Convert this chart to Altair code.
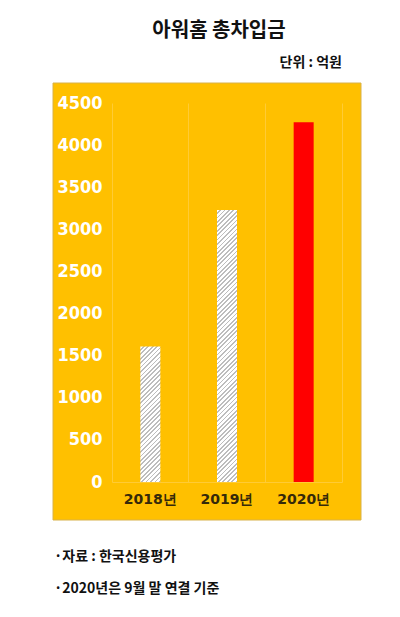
import altair as alt
import pandas as pd

years = ["2018년", "2019년", "2020년"]
values = [1610, 3230, 4270]
y_ticks = [0, 500, 1000, 1500, 2000, 2500, 3000, 3500, 4000, 4500]
title_text = ["아워홈 총차입금"]
unit_text = ["단위 : 억원"]
note1 = ["·자료 : 한국신용평가"]
note2 = ["·2020년은 9월 말 연결 기준"]

W, H = 230, 379
YMAX = 4500
BAR_W = 20
ORANGE = "#FFC000"
GRID = "#FFCB35"
KFONT = "Noto Sans CJK KR"
NUMFONT = "DejaVu Sans Condensed"

df = pd.DataFrame({"year": years, "value": values})


def hatch(v, w=BAR_W, period=4.4, frac=0.4, gray="#bdbdbd"):
    h = v / YMAX * H
    L = w + h
    n = max(1, round(L / period))
    s = w * (w + h) / (w * w + h * h)
    stops = []
    for i in range(n):
        a, b, c = i / n, (i + 1 - frac) / n, (i + 1) / n
        stops += [
            {"offset": a, "color": "#ffffff"},
            {"offset": b, "color": "#ffffff"},
            {"offset": b, "color": gray},
            {"offset": c, "color": gray},
        ]
    return {"gradient": "linear", "x1": 0, "y1": 0, "x2": s, "y2": s * h / w, "stops": stops}


x_axis = alt.Axis(
    title=None, labelAngle=0, ticks=False, grid=True, bandPosition=0,
    gridColor=GRID, gridWidth=1, domainColor=GRID, domainWidth=1,
    labelColor="#35290a", labelFont="DejaVu Sans", labelFontWeight="bold",
    labelFontSize=14, labelPadding=10, zindex=1,
)
x_enc = alt.X("year:N", sort=years, scale=alt.Scale(paddingInner=0, paddingOuter=0), axis=x_axis)
y_scale = alt.Scale(domain=[0, YMAX], nice=False)

y_left = alt.Axis(
    title=None, values=y_ticks, format="d", grid=False, domain=False, ticks=False,
    labelColor="#ffffff", labelFont=NUMFONT, labelFontWeight="bold",
    labelFontSize=18, labelPadding=10, zindex=1,
)
y_right = alt.Axis(
    title=None, orient="right", labels=False, grid=False, ticks=False,
    domain=True, domainColor=GRID, domainWidth=1, zindex=1,
)

base = alt.Chart(df)

panel = alt.Chart(pd.DataFrame({"a": [0]})).mark_rect(
    color=ORANGE, stroke="#d8b24a", strokeWidth=1
).encode(
    x=alt.value(-59), x2=alt.value(249), y=alt.value(-20), y2=alt.value(417)
)

red = base.transform_filter(alt.datum.year == "2020년").mark_bar(size=BAR_W, color="#FF0000").encode(
    x=x_enc, y=alt.Y("value:Q", scale=y_scale, axis=y_left)
)

hatch_layers = []
for yr, v in zip(years[:2], values[:2]):
    hatch_layers.append(
        base.transform_filter(alt.datum.year == yr).mark_bar(size=BAR_W, color=hatch(v)).encode(
            x=x_enc, y=alt.Y("value:Q", scale=y_scale, axis=None)
        )
    )

right_line = base.mark_bar(opacity=0).encode(
    x=x_enc, y=alt.Y("value:Q", scale=y_scale, axis=y_right)
)


def text_layer(lines, x, y, size, align):
    return alt.Chart(pd.DataFrame({"t": lines})).mark_text(
        font=KFONT, fontWeight="bold", fontSize=size, color="#111111", align=align, baseline="middle"
    ).encode(text="t:N", x=alt.value(x), y=alt.value(y))


title = text_layer(title_text, 107, -72, 20, "center")
unit = text_layer(unit_text, 230, -40, 14, "right")
n1 = text_layer(note1, -58, 454, 14, "left")
n2 = text_layer(note2, -58, 486, 14, "left")

chart = alt.layer(
    panel, *hatch_layers, red, right_line, title, unit, n1, n2
).resolve_axis(y="independent").properties(
    width=W, height=H,
    autosize=alt.AutoSizeParams(type="none"),
    padding={"left": 104, "top": 95, "right": 50, "bottom": 127},
    background="#ffffff",
).configure_view(stroke=None)

chart.save("out.html", embed_options={"renderer": "svg", "actions": False})
